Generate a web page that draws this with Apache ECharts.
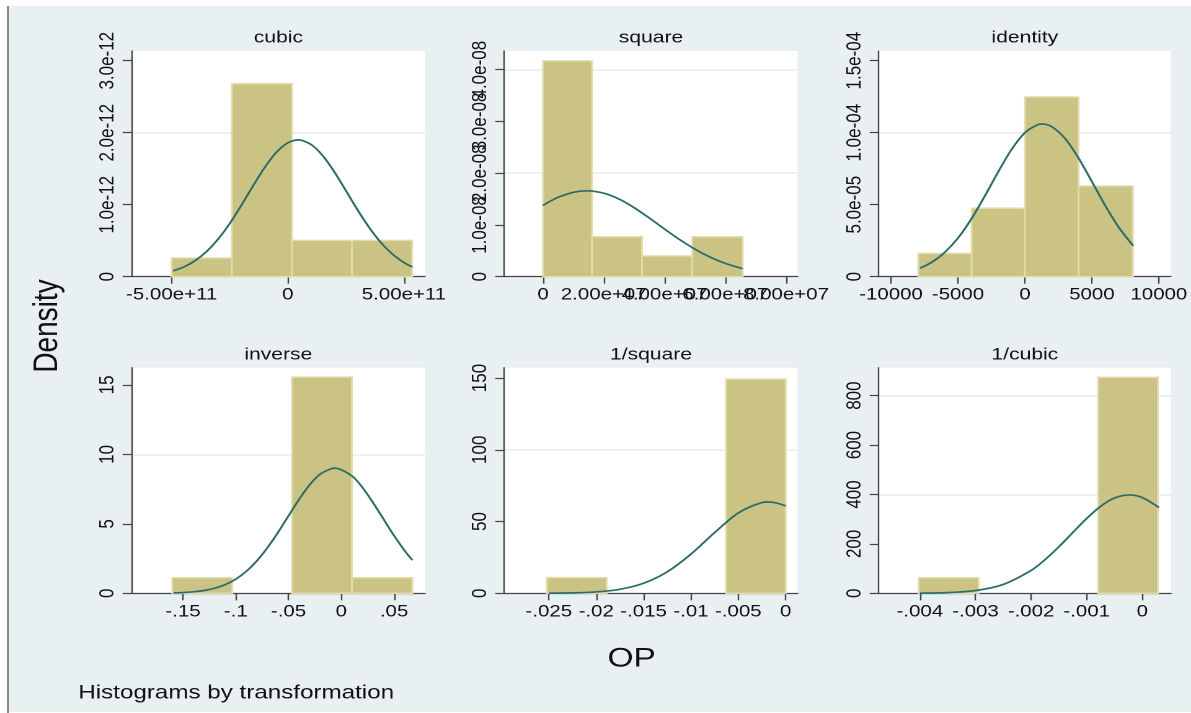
<!DOCTYPE html>
<html>
<head>
<meta charset="utf-8">
<script src="https://cdn.jsdelivr.net/npm/echarts@6/dist/echarts.min.js"></script>
<style>
html,body{margin:0;padding:0;background:#fff;width:1191px;height:713px;overflow:hidden;}
#bg{position:absolute;left:9px;top:6px;width:1182px;height:706px;background:#e9f0f2;}
#edge{position:absolute;left:7px;top:6px;width:2px;height:707px;background:#8a8a8a;}
#chart{position:absolute;left:0;top:0;height:713px;transform-origin:0 0;}
</style>
</head>
<body>
<div id="bg"></div>
<div id="edge"></div>
<div id="chart"></div>
<script>
// ---------------- data ----------------
const panelTitles = ['cubic', 'square', 'identity', 'inverse', '1/square', '1/cubic'];

// cubic
const cubicBinEdges = [-5.0e11, -2.41e11, 0.18e11, 2.76e11, 5.35e11];
const cubicDensity = [0.26e-12, 2.68e-12, 0.505e-12, 0.505e-12];
const cubicCurveX = [-4.94e11, -4.5e11, -4.0e11, -3.5e11, -3.0e11, -2.5e11, -2.0e11, -1.5e11, -1.0e11, -0.5e11, 0, 0.44e11, 1.0e11, 1.5e11, 2.0e11, 2.5e11, 3.0e11, 3.5e11, 4.0e11, 4.5e11, 5.0e11, 5.36e11];
const cubicCurveY = [0.081e-12, 0.132e-12, 0.221e-12, 0.349e-12, 0.522e-12, 0.739e-12, 0.992e-12, 1.260e-12, 1.515e-12, 1.725e-12, 1.860e-12, 1.900e-12, 1.836e-12, 1.682e-12, 1.457e-12, 1.195e-12, 0.929e-12, 0.684e-12, 0.476e-12, 0.314e-12, 0.196e-12, 0.135e-12];
const cubicXTicks = [-5e11, 0, 5e11];
const cubicXLabels = ['-5.00e+11', '0', '5.00e+11'];
const cubicYTicks = [0, 1e-12, 2e-12, 3e-12];
const cubicYLabels = ['0', '1.0e-12', '2.0e-12', '3.0e-12'];
const cubicXRange = [-6.72e11, 5.905e11];
const cubicYMax = 3.135e-12;

// square
const squareBinEdges = [0, 1.613e7, 3.259e7, 4.915e7, 6.574e7];
const squareDensity = [4.17e-8, 0.773e-8, 0.40e-8, 0.773e-8];
const squareCurveX = [0, 0.5e7, 1.0e7, 1.44e7, 2.0e7, 2.5e7, 3.0e7, 3.5e7, 4.0e7, 4.5e7, 5.0e7, 5.5e7, 6.0e7, 6.57e7];
const squareCurveY = [1.378e-8, 1.534e-8, 1.631e-8, 1.66e-8, 1.614e-8, 1.501e-8, 1.334e-8, 1.134e-8, 0.921e-8, 0.716e-8, 0.532e-8, 0.378e-8, 0.257e-8, 0.156e-8];
const squareXTicks = [0, 2e7, 4e7, 6e7, 8e7];
const squareXLabels = ['0', '2.00e+07', '4.00e+07', '6.00e+07', '8.00e+07'];
const squareYTicks = [0, 1e-8, 2e-8, 3e-8, 4e-8];
const squareYLabels = ['0', '1.0e-08', '2.0e-08', '3.0e-08', '4.0e-08'];
const squareXRange = [-1.274e7, 8.385e7];
const squareYMax = 4.361e-8;

// identity
const identityBinEdges = [-7963, -3978, 0, 4007, 8060];
const identityDensity = [1.62e-5, 4.75e-5, 1.248e-4, 6.30e-5];
const identityCurveX = [-7836, -7000, -6000, -5000, -4000, -3000, -2000, -1000, 0, 1000, 1300, 2000, 3000, 4000, 5000, 6000, 7000, 8085];
const identityCurveY = [0.59e-5, 0.98e-5, 1.68e-5, 2.68e-5, 4.01e-5, 5.59e-5, 7.27e-5, 8.83e-5, 10.0e-5, 10.57e-5, 10.6e-5, 10.42e-5, 9.59e-5, 8.24e-5, 6.6e-5, 4.93e-5, 3.44e-5, 2.15e-5];
const identityXTicks = [-10000, -5000, 0, 5000, 10000];
const identityXLabels = ['-10000', '-5000', '0', '5000', '10000'];
const identityYTicks = [0, 5e-5, 1e-4, 1.5e-4];
const identityYLabels = ['0', '5.0e-05', '1.0e-04', '1.5e-04'];
const identityXRange = [-10918, 10896];
const identityYMax = 1.567e-4;

// inverse
const inverseBinEdges = [-0.1601, -0.1033, -0.0468, 0.0100, 0.0673];
const inverseDensity = [1.12, 0, 15.56, 1.12];
const inverseCurveX = [-0.159, -0.15, -0.14, -0.13, -0.12, -0.11, -0.10, -0.09, -0.08, -0.07, -0.06, -0.05, -0.04, -0.03, -0.02, -0.01, -0.006, 0.01, 0.02, 0.03, 0.04, 0.05, 0.06, 0.0673];
const inverseCurveY = [0.028, 0.054, 0.107, 0.202, 0.364, 0.623, 1.016, 1.58, 2.33, 3.28, 4.38, 5.58, 6.76, 7.81, 8.58, 8.96, 9.0, 8.45, 7.62, 6.53, 5.34, 4.15, 3.07, 2.39];
const inverseXTicks = [-0.15, -0.1, -0.05, 0, 0.05];
const inverseXLabels = ['-.15', '-.1', '-.05', '0', '.05'];
const inverseYTicks = [0, 5, 10, 15];
const inverseYLabels = ['0', '5', '10', '15'];
const inverseXRange = [-0.1986, 0.0793];
const inverseYMax = 16.24;

// 1/square
const invSquareBinEdges = [-0.0252, -0.0189, -0.0126, -0.0063, 0];
const invSquareDensity = [10.9, 0, 0, 149.2];
const invSquareCurveX = [-0.025, -0.0225, -0.02, -0.0175, -0.015, -0.0125, -0.01, -0.0075, -0.005, -0.0025, -0.00184, -0.001, 0];
const invSquareCurveY = [0.07, 0.28, 0.96, 2.81, 7.03, 14.99, 27.3, 42.3, 56.0, 63.25, 63.6, 63.0, 60.9];
const invSquareXTicks = [-0.025, -0.02, -0.015, -0.01, -0.005, 0];
const invSquareXLabels = ['-.025', '-.02', '-.015', '-.01', '-.005', '0'];
const invSquareYTicks = [0, 50, 100, 150];
const invSquareYLabels = ['0', '50', '100', '150'];
const invSquareXRange = [-0.0297, 0.00127];
const invSquareYMax = 157.2;

// 1/cubic
const invCubicBinEdges = [-0.00402, -0.002945, -0.00187, -0.000795, 0.00028];
const invCubicDensity = [63, 0, 0, 874];
const invCubicCurveX = [-0.004, -0.0035, -0.003, -0.0025, -0.002, -0.00175, -0.0015, -0.00125, -0.001, -0.00075, -0.0005, -0.00024, 0, 0.0003];
const invCubicCurveY = [0.51, 2.66, 11.0, 35.9, 92.4, 135.9, 188.4, 246, 303, 352, 385.5, 398, 387.4, 347];
const invCubicXTicks = [-0.004, -0.003, -0.002, -0.001, 0];
const invCubicXLabels = ['-.004', '-.003', '-.002', '-.001', '0'];
const invCubicYTicks = [0, 200, 400, 600, 800];
const invCubicYLabels = ['0', '200', '400', '600', '800'];
const invCubicXRange = [-0.00474, 0.000516];
const invCubicYMax = 913;

// ---------------- layout & style ----------------
const SX = 1.24; // horizontal stretch of the reference picture
const W = 1191 / SX;
const colLeft = [131.7, 504.3, 878.7];
const colRight = [425, 797.7, 1171];
const rowTop = [51, 367.7];
const rowBottom = [276.7, 593.3];
const FONT = '"Liberation Sans", Arial, Helvetica, sans-serif';
const BAR_FILL = '#cbc383';
const BAR_EDGE = '#e1dcac';
const CURVE = '#2b6c69';
const AXIS = '#444';
const GRIDLINE = '#e4ecef';

const panels = [
  {edges: cubicBinEdges, dens: cubicDensity, cx: cubicCurveX, cy: cubicCurveY, xt: cubicXTicks, xl: cubicXLabels, yt: cubicYTicks, yl: cubicYLabels, xr: cubicXRange, ym: cubicYMax},
  {edges: squareBinEdges, dens: squareDensity, cx: squareCurveX, cy: squareCurveY, xt: squareXTicks, xl: squareXLabels, yt: squareYTicks, yl: squareYLabels, xr: squareXRange, ym: squareYMax},
  {edges: identityBinEdges, dens: identityDensity, cx: identityCurveX, cy: identityCurveY, xt: identityXTicks, xl: identityXLabels, yt: identityYTicks, yl: identityYLabels, xr: identityXRange, ym: identityYMax},
  {edges: inverseBinEdges, dens: inverseDensity, cx: inverseCurveX, cy: inverseCurveY, xt: inverseXTicks, xl: inverseXLabels, yt: inverseYTicks, yl: inverseYLabels, xr: inverseXRange, ym: inverseYMax},
  {edges: invSquareBinEdges, dens: invSquareDensity, cx: invSquareCurveX, cy: invSquareCurveY, xt: invSquareXTicks, xl: invSquareXLabels, yt: invSquareYTicks, yl: invSquareYLabels, xr: invSquareXRange, ym: invSquareYMax},
  {edges: invCubicBinEdges, dens: invCubicDensity, cx: invCubicCurveX, cy: invCubicCurveY, xt: invCubicXTicks, xl: invCubicXLabels, yt: invCubicYTicks, yl: invCubicYLabels, xr: invCubicXRange, ym: invCubicYMax}
];

function labelFor(ticks, labels) {
  return function (v) {
    let best = 0, bd = Infinity;
    for (let k = 0; k < ticks.length; k++) {
      const d = Math.abs(ticks[k] - v);
      if (d < bd) { bd = d; best = k; }
    }
    return labels[best];
  };
}
function evenOf(a) { return a.filter(function (v, k) { return k % 2 === 0; }); }
function oddOf(a) { return a.filter(function (v, k) { return k % 2 === 1; }); }

function renderBar(params, api) {
  const h = api.value(2);
  if (!h) return null;
  const a = api.coord([api.value(0), h]);
  const b = api.coord([api.value(1), 0]);
  return {
    type: 'rect',
    shape: {x: a[0], y: a[1], width: b[0] - a[0], height: b[1] - a[1]},
    style: {fill: BAR_FILL, stroke: BAR_EDGE, lineWidth: 1.5}
  };
}

const tickLine = {color: AXIS, width: 1.2};
function xLabelStyle(vals, p) {
  return {show: true, customValues: vals, formatter: labelFor(p.xt, p.xl), margin: 10,
    showMinLabel: true, showMaxLabel: true, hideOverlap: false,
    fontFamily: FONT, fontSize: 16.5, color: '#111'};
}
function yLabelStyle(vals, p) {
  return {show: true, customValues: vals, formatter: labelFor(p.yt, p.yl), rotate: 90, margin: 11,
    showMinLabel: true, showMaxLabel: true, hideOverlap: false,
    fontFamily: FONT, fontSize: 17, color: '#111'};
}

const grid = [], xAxis = [], yAxis = [], series = [], title = [];
panels.forEach(function (p, i) {
  const r = Math.floor(i / 3), c = i % 3;
  grid.push({
    left: colLeft[c] / SX, top: rowTop[r],
    width: (colRight[c] - colLeft[c]) / SX, height: rowBottom[r] - rowTop[r],
    show: true, backgroundColor: '#ffffff', borderWidth: 0
  });
  title.push({
    text: panelTitles[i],
    left: (colLeft[c] + colRight[c]) / 2 / SX,
    top: rowTop[r] - 13,
    textAlign: 'center', textVerticalAlign: 'middle', padding: 0,
    textStyle: {fontFamily: FONT, fontSize: 17, fontWeight: 'normal', color: '#111'}
  });
  // main x axis: line + even ticks/labels; companion x axis: odd ticks/labels (so overlapping labels all stay drawn)
  xAxis.push({
    gridIndex: i, type: 'value', position: 'bottom', min: p.xr[0], max: p.xr[1],
    axisLine: {show: true, onZero: false, lineStyle: tickLine},
    axisTick: {show: true, customValues: evenOf(p.xt), length: 7, lineStyle: tickLine},
    axisLabel: xLabelStyle(evenOf(p.xt), p),
    splitLine: {show: false}
  });
  xAxis.push({
    gridIndex: i, type: 'value', position: 'bottom', min: p.xr[0], max: p.xr[1],
    axisLine: {show: false, onZero: false},
    axisTick: {show: true, customValues: oddOf(p.xt), length: 7, lineStyle: tickLine},
    axisLabel: xLabelStyle(oddOf(p.xt), p),
    splitLine: {show: false}
  });
  yAxis.push({
    gridIndex: i, type: 'value', position: 'left', min: 0, max: p.ym, interval: p.yt[1] - p.yt[0],
    axisLine: {show: true, onZero: false, lineStyle: tickLine},
    axisTick: {show: true, customValues: evenOf(p.yt), length: 7.3, lineStyle: tickLine},
    axisLabel: yLabelStyle(evenOf(p.yt), p),
    splitLine: {show: true, lineStyle: {color: GRIDLINE, width: 1.6}}
  });
  yAxis.push({
    gridIndex: i, type: 'value', position: 'left', min: 0, max: p.ym, interval: p.yt[1] - p.yt[0],
    axisLine: {show: false, onZero: false},
    axisTick: {show: true, customValues: oddOf(p.yt), length: 7.3, lineStyle: tickLine},
    axisLabel: yLabelStyle(oddOf(p.yt), p),
    splitLine: {show: false}
  });
  series.push({
    type: 'custom', xAxisIndex: 2 * i, yAxisIndex: 2 * i, silent: true, z: 2,
    data: p.dens.map(function (d, k) { return [p.edges[k], p.edges[k + 1], d]; }),
    encode: {x: [0, 1], y: 2},
    renderItem: renderBar
  });
  series.push({
    type: 'line', xAxisIndex: 2 * i, yAxisIndex: 2 * i, silent: true, z: 3,
    data: p.cx.map(function (x, k) { return [x, p.cy[k]]; }),
    smooth: 0.3, showSymbol: false, symbol: 'none',
    lineStyle: {color: CURVE, width: 1.7}
  });
});

const el = document.getElementById('chart');
el.style.width = W + 'px';
el.style.transform = 'scaleX(' + SX + ')';
const chart = echarts.init(el, null, {renderer: 'canvas', devicePixelRatio: 2, width: W, height: 713});
chart.setOption({
  animation: false,
  backgroundColor: 'transparent',
  title: title,
  grid: grid,
  xAxis: xAxis,
  yAxis: yAxis,
  series: series,
  graphic: [
    {type: 'text', x: 47.5 / SX, y: 326, rotation: Math.PI / 2,
      style: {text: 'Density', font: '28px ' + FONT, fill: '#111', textAlign: 'center', textVerticalAlign: 'middle'}},
    {type: 'text', x: 631.7 / SX, y: 659,
      style: {text: 'OP', font: '27px ' + FONT, fill: '#111', textAlign: 'center', textVerticalAlign: 'middle'}},
    {type: 'text', x: 78.3 / SX, y: 693,
      style: {text: 'Histograms by transformation', font: '19.5px ' + FONT, fill: '#111', textAlign: 'left', textVerticalAlign: 'middle'}}
  ]
});
</script>
</body>
</html>
